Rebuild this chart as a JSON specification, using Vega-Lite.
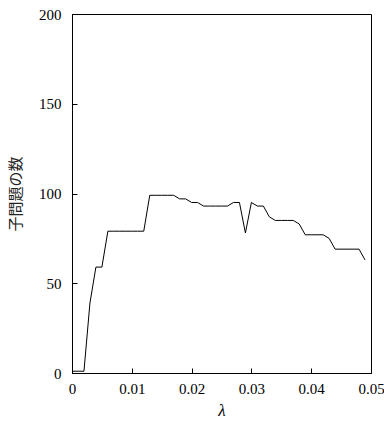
{
  "$schema": "https://vega.github.io/schema/vega-lite/v6.json",
  "autosize": {"type": "none"},
  "padding": {"left": 72, "top": 14, "right": 13, "bottom": 48},
  "width": 299,
  "height": 359,
  "background": "white",
  "config": {
    "font": "Liberation Serif",
    "view": {"stroke": "black", "strokeWidth": 1},
    "axis": {
      "grid": false,
      "domainColor": "black",
      "tickColor": "black",
      "labelColor": "black",
      "titleColor": "black",
      "labelFontSize": 15,
      "tickSize": -5,
      "labelFontWeight": "normal",
      "titleFontWeight": "normal"
    }
  },
  "data": {
    "values": [
      {"lambda": 0.000, "n": 1},
      {"lambda": 0.001, "n": 1},
      {"lambda": 0.002, "n": 1},
      {"lambda": 0.003, "n": 39},
      {"lambda": 0.004, "n": 59},
      {"lambda": 0.005, "n": 59},
      {"lambda": 0.006, "n": 79},
      {"lambda": 0.007, "n": 79},
      {"lambda": 0.008, "n": 79},
      {"lambda": 0.009, "n": 79},
      {"lambda": 0.010, "n": 79},
      {"lambda": 0.011, "n": 79},
      {"lambda": 0.012, "n": 79},
      {"lambda": 0.013, "n": 99},
      {"lambda": 0.014, "n": 99},
      {"lambda": 0.015, "n": 99},
      {"lambda": 0.016, "n": 99},
      {"lambda": 0.017, "n": 99},
      {"lambda": 0.018, "n": 97},
      {"lambda": 0.019, "n": 97},
      {"lambda": 0.020, "n": 95},
      {"lambda": 0.021, "n": 95},
      {"lambda": 0.022, "n": 93},
      {"lambda": 0.023, "n": 93},
      {"lambda": 0.024, "n": 93},
      {"lambda": 0.025, "n": 93},
      {"lambda": 0.026, "n": 93},
      {"lambda": 0.027, "n": 95},
      {"lambda": 0.028, "n": 95},
      {"lambda": 0.029, "n": 78},
      {"lambda": 0.030, "n": 95},
      {"lambda": 0.031, "n": 93},
      {"lambda": 0.032, "n": 93},
      {"lambda": 0.033, "n": 87},
      {"lambda": 0.034, "n": 85},
      {"lambda": 0.035, "n": 85},
      {"lambda": 0.036, "n": 85},
      {"lambda": 0.037, "n": 85},
      {"lambda": 0.038, "n": 83},
      {"lambda": 0.039, "n": 77},
      {"lambda": 0.040, "n": 77},
      {"lambda": 0.041, "n": 77},
      {"lambda": 0.042, "n": 77},
      {"lambda": 0.043, "n": 75},
      {"lambda": 0.044, "n": 69},
      {"lambda": 0.045, "n": 69},
      {"lambda": 0.046, "n": 69},
      {"lambda": 0.047, "n": 69},
      {"lambda": 0.048, "n": 69},
      {"lambda": 0.049, "n": 63}
    ]
  },
  "mark": {"type": "line", "color": "black", "strokeWidth": 1},
  "encoding": {
    "x": {
      "field": "lambda",
      "type": "quantitative",
      "scale": {"domain": [0, 0.05], "nice": false},
      "axis": {
        "values": [0, 0.01, 0.02, 0.03, 0.04, 0.05],
        "format": "~g",
        "labelFont": "Liberation Serif",
        "labelPadding": 13,
        "labelFlush": false,
        "title": "λ",
        "titleFont": "Liberation Serif",
        "titleFontStyle": "italic",
        "titleFontSize": 17,
        "titlePadding": 6
      }
    },
    "y": {
      "field": "n",
      "type": "quantitative",
      "scale": {"domain": [0, 200], "nice": false},
      "axis": {
        "values": [0, 50, 100, 150, 200],
        "labelFont": "Liberation Serif",
        "labelPadding": 16,
        "labelFlush": false,
        "title": "子問題の数",
        "titleFont": "Noto Sans CJK JP",
        "titleFontSize": 15,
        "titleColor": "#222222",
        "titlePadding": 15
      }
    }
  }
}
